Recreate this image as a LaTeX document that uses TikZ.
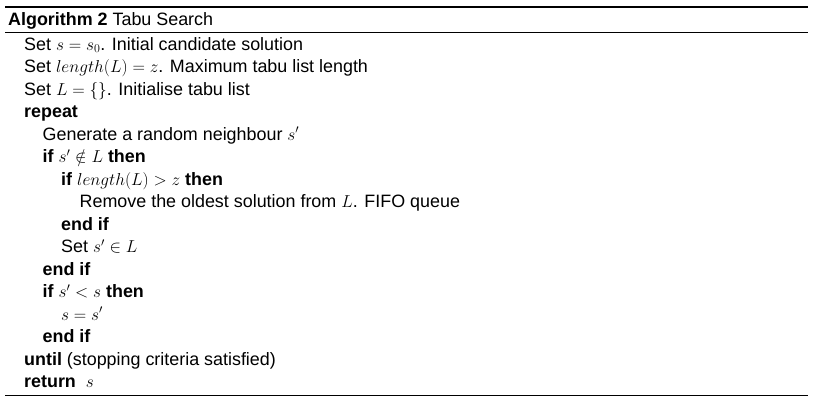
\documentclass[tikz,border=0pt]{standalone}
\usepackage{amssymb}
\usepackage{fontspec}
\setmainfont{Liberation Sans}
\begin{document}
\begin{tikzpicture}[x=1pt,y=-1pt,
  ln/.style={anchor=base west,inner sep=0pt,font=\fontsize{17.9}{21}\selectfont},
  rulethick/.style={line width=1.5pt},
  rulethin/.style={line width=1pt}]
\useasboundingbox (0,0) rectangle (817,405);
\draw[rulethick] (5,7) -- (808,7);
\draw[rulethin] (5,32.3) -- (808,32.3);
\draw[rulethin] (5,395.5) -- (808,395.5);
\node[ln] (h) at (8,25) {\textbf{Algorithm 2} Tabu Search};
\node[ln] (l1) at (24,50) {Set $s=s_0$. Initial candidate solution};
\node[ln] (l2) at (24,72.5) {Set $length(L)=z$. Maximum tabu list length};
\node[ln] (l3) at (24,95) {Set $L=\{\}$. Initialise tabu list};
\node[ln] (l4) at (24,117.5) {\textbf{repeat}};
\node[ln] (l5) at (42.5,140) {Generate a random neighbour $s'$};
\node[ln] (l6) at (42.5,162.5) {\textbf{if} $s'\notin L$ \textbf{then}};
\node[ln] (l7) at (61,185) {\textbf{if} $length(L)>z$ \textbf{then}};
\node[ln] (l8) at (79.5,207.5) {Remove the oldest solution from $L$. FIFO queue};
\node[ln] (l9) at (61,230) {\textbf{end if}};
\node[ln] (l10) at (61,252.5) {Set $s'\in L$};
\node[ln] (l11) at (42.5,275) {\textbf{end if}};
\node[ln] (l12) at (42.5,297.5) {\textbf{if} $s'<s$ \textbf{then}};
\node[ln] (l13) at (61,320) {$s=s'$};
\node[ln] (l14) at (42.5,342.5) {\textbf{end if}};
\node[ln] (l15) at (24,365) {\textbf{until} (stopping criteria satisfied)};
\node[ln] (l16) at (24,387.5) {\textbf{return} \ $s$};
\end{tikzpicture}
\end{document}
